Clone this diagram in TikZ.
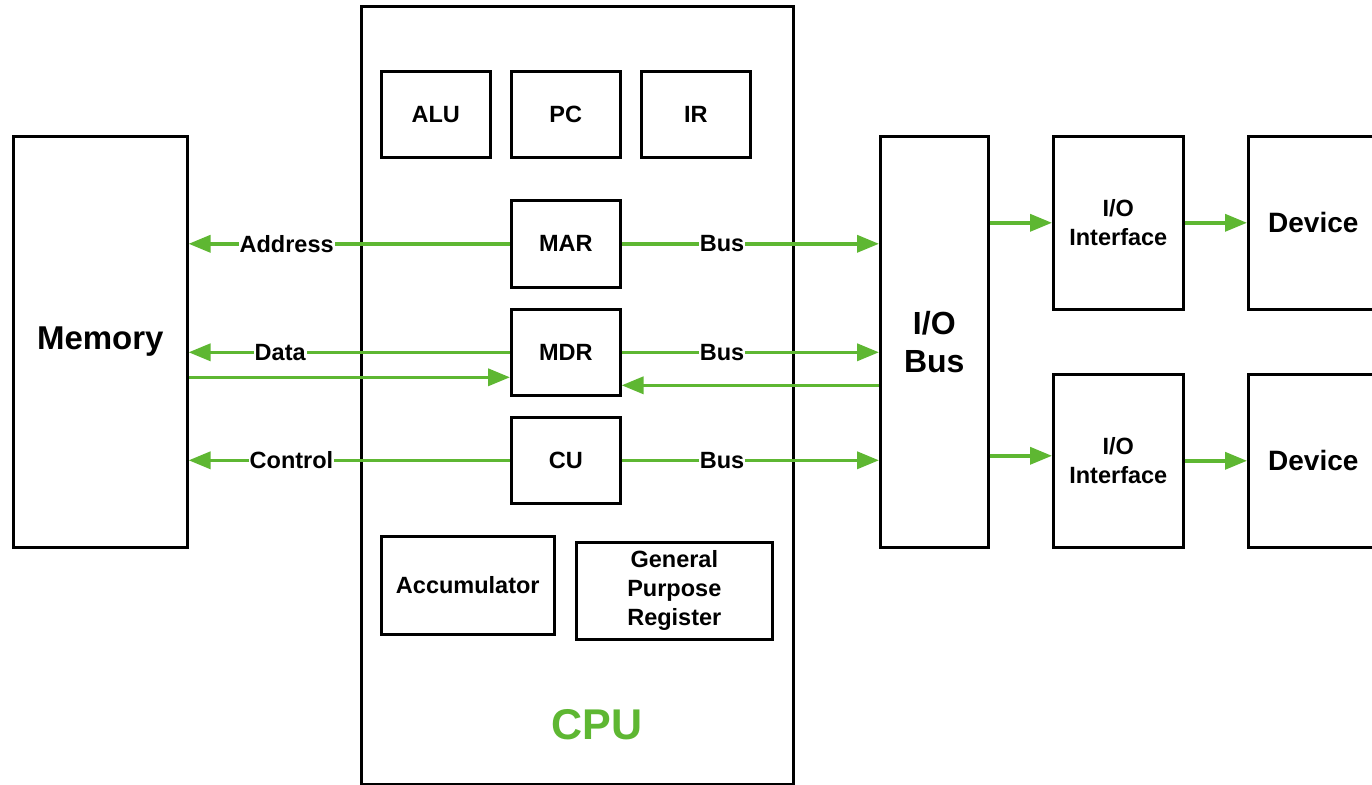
\documentclass[tikz,border=0pt]{standalone}
\usepackage{fontspec}
\setmainfont{Liberation Sans}
\usetikzlibrary{arrows.meta,positioning}
\definecolor{cpugreen}{RGB}{94,183,50}
\tikzset{
  blk/.style={draw=black, line width=2.6pt, fill=white, inner sep=0pt, align=center,
    font=\fontsize{23.5}{29}\selectfont\bfseries, anchor=north west},
  arr/.style={draw=cpugreen, line width=3.6pt, -{Triangle[length=22pt,width=17pt]}},
  lbl/.style={fill=white, inner sep=1pt, font=\fontsize{23.5}{29}\selectfont\bfseries}
}
\begin{document}
\begin{tikzpicture}[x=1pt,y=-1pt]
\clip (0,0) rectangle (1372,784);
\fill[white] (0,0) rectangle (1372,784);
% main boxes
\node[blk, minimum width=174pt, minimum height=411pt, font=\fontsize{33}{38}\selectfont\bfseries] (mem) at (12,135) {Memory};
\node[blk, minimum width=432pt, minimum height=778pt] (cpu) at (360,5) {};
\node[blk, minimum width=109pt, minimum height=86pt] (alu) at (380,70) {ALU};
\node[blk, minimum width=109pt, minimum height=86pt] (pc) at (510,70) {PC};
\node[blk, minimum width=109pt, minimum height=86pt] (ir) at (640,70) {IR};
\node[blk, minimum width=109pt, minimum height=87pt] (mar) at (510,199) {MAR};
\node[blk, minimum width=109pt, minimum height=86pt] (mdr) at (510,308) {MDR};
\node[blk, minimum width=109pt, minimum height=86pt] (cu) at (510,416) {CU};
\node[blk, minimum width=173pt, minimum height=98pt] (acc) at (380,535) {Accumulator};
\node[blk, minimum width=196pt, minimum height=97pt] (gpr) at (575,541) {General\\Purpose\\Register};
\node[font=\fontsize{43}{48}\selectfont\bfseries, text=cpugreen] (cpulbl) at (597,725) {CPU};
\node[blk, minimum width=108pt, minimum height=411pt, font=\fontsize{32}{38}\selectfont\bfseries] (iobus) at (879,135) {I/O\\Bus};
\node[blk, minimum width=130pt, minimum height=173pt] (io1) at (1052,135) {I/O\\Interface};
\node[blk, minimum width=140pt, minimum height=173pt, font=\fontsize{28}{32}\selectfont\bfseries] (dev1) at (1247,135) {\hspace*{-10pt}Device};
\node[blk, minimum width=130pt, minimum height=173pt] (io2) at (1052,373) {I/O\\Interface};
\node[blk, minimum width=140pt, minimum height=173pt, font=\fontsize{28}{32}\selectfont\bfseries] (dev2) at (1247,373) {\hspace*{-10pt}Device};
% helper coordinates
\coordinate (mdrin) at ([yshift=-25pt]mdr.west);
\coordinate (mdrback) at ([yshift=-33pt]mdr.east);
\coordinate (io2in) at ([yshift=5pt]io2.west);
% memory side
\draw[arr] (mar.west) -- node[lbl, pos=0.695] {Address} (mem.east |- mar.west);
\draw[arr] (mdr.west) -- node[lbl, pos=0.715] {Data} (mem.east |- mdr.west);
\draw[arr] (mem.east |- mdrin) -- (mdrin);
\draw[arr] (cu.west) -- node[lbl, pos=0.68] {Control} (mem.east |- cu.west);
% bus side
\draw[arr] (mar.east) -- node[lbl, pos=0.39] {Bus} (iobus.west |- mar.east);
\draw[arr] (mdr.east) -- node[lbl, pos=0.39] {Bus} (iobus.west |- mdr.east);
\draw[arr] (iobus.west |- mdrback) -- (mdrback);
\draw[arr] (cu.east) -- node[lbl, pos=0.39] {Bus} (iobus.west |- cu.east);
% I/O
\draw[arr] (iobus.east |- io1.west) -- (io1.west);
\draw[arr] (io1.east) -- (dev1.west |- io1.east);
\draw[arr] (iobus.east |- io2in) -- (io2in);
\draw[arr] (io2.east) -- (dev2.west |- io2.east);
\end{tikzpicture}
\end{document}
